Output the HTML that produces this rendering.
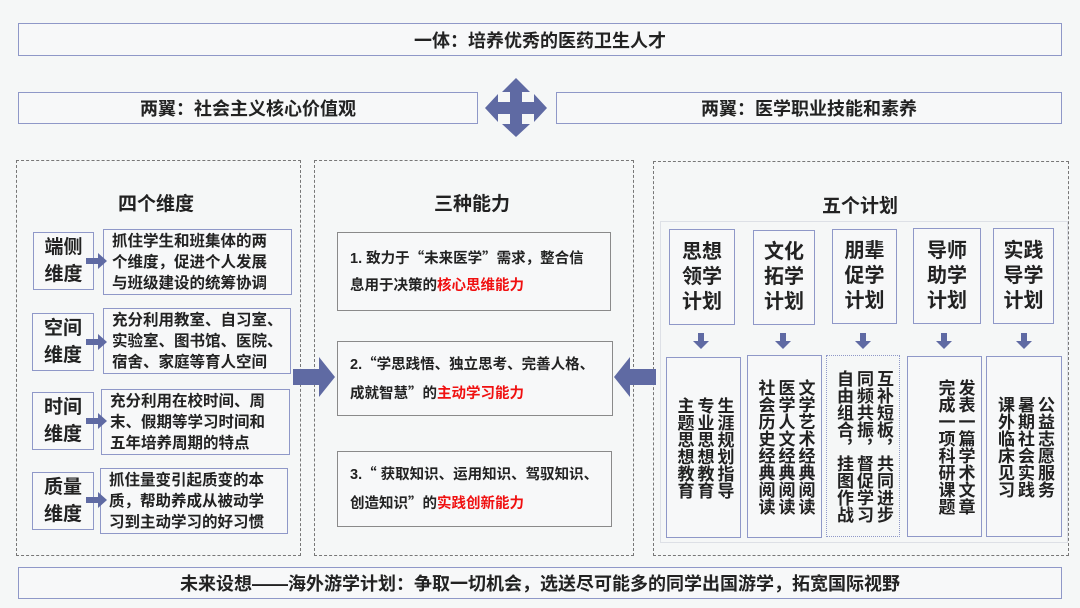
<!DOCTYPE html>
<html><head><meta charset="utf-8"><style>
*{margin:0;padding:0;box-sizing:border-box}
body{width:1080px;height:608px;background:#f5f7f7;position:relative;overflow:hidden;font-family:"Liberation Sans","Noto Sans CJK SC",sans-serif;color:#222;font-weight:bold}
.a{position:absolute}
.b{position:absolute;border:1.5px solid #8f98c8;background:#f7f8f9}
.g{position:absolute;border:1.5px solid #8a8a8a;background:#f7f8f9}
.d{position:absolute;border:1px dashed #777}
.c{display:flex;align-items:center;justify-content:center;text-align:center}
.lbl{font-size:19px;line-height:27px}
.txt{font-size:15.5px;line-height:21px;padding:2px 8px;text-align:left;display:flex;align-items:center;white-space:nowrap}
.mid{font-size:14.5px;line-height:27px;padding:0 12px;display:flex;align-items:center;white-space:nowrap}
.red{color:#f01010}
.q{font-family:"Noto Sans CJK SC",sans-serif}
.top{font-size:20px;line-height:25px}
.vt{writing-mode:vertical-rl;font-size:17px;line-height:20px}
</style></head><body>
<div class="b c" style="left:18px;top:23px;width:1044px;height:33px;font-size:18px">一体：培养优秀的医药卫生人才</div>
<div class="b c" style="left:18px;top:92px;width:460px;height:32px;font-size:18px">两翼：社会主义核心价值观</div>
<div class="b c" style="left:556px;top:92px;width:506px;height:32px;font-size:18px">两翼：医学职业技能和素养</div>
<svg class="a" style="left:484px;top:78px" width="64" height="60" viewBox="0 0 64 60"><path d="M32 0 L46 14 L38 14 L38 24 L50 24 L50 16 L63 30 L50 44 L50 36 L38 36 L38 46 L46 46 L32 59 L18 46 L26 46 L26 36 L14 36 L14 44 L1 30 L14 16 L14 24 L26 24 L26 14 L18 14 Z" fill="#5f6aa3"/></svg>

<div class="d" style="left:16px;top:160px;width:285px;height:396px"></div>
<div class="d" style="left:314px;top:160px;width:320px;height:396px"></div>
<div class="d" style="left:653px;top:161px;width:416px;height:395px"></div>

<div class="a" style="left:118px;top:189px;font-size:19px">四个维度</div>
<div class="b c lbl" style="left:33px;top:232px;width:61px;height:58px">端侧<br>维度</div>
<div class="b txt" style="left:103px;top:229px;width:189px;height:66px">抓住学生和班集体的两<br>个维度，促进个人发展<br>与班级建设的统筹协调</div>
<div class="b c lbl" style="left:32px;top:313px;width:62px;height:58px">空间<br>维度</div>
<div class="b txt" style="left:103px;top:308px;width:188px;height:66px">充分利用教室、自习室、<br>实验室、图书馆、医院、<br>宿舍、家庭等育人空间</div>
<div class="b c lbl" style="left:32px;top:392px;width:62px;height:58px">时间<br>维度</div>
<div class="b txt" style="left:101px;top:389px;width:189px;height:66px">充分利用在校时间、周<br>末、假期等学习时间和<br>五年培养周期的特点</div>
<div class="b c lbl" style="left:32px;top:472px;width:62px;height:58px">质量<br>维度</div>
<div class="b txt" style="left:100px;top:468px;width:188px;height:66px">抓住量变引起质变的本<br>质，帮助养成从被动学<br>习到主动学习的好习惯</div>
<svg class="a" style="left:0;top:0" width="1080" height="608">
<g fill="#5f6aa3">
<path d="M86 258h12v-5l9 8-9 8v-5h-12z"/>
<path d="M86 339h12v-5l9 8-9 8v-5h-12z"/>
<path d="M86 418h12v-5l9 8-9 8v-5h-12z"/>
<path d="M86 497h12v-5l9 8-9 8v-5h-12z"/>
<path d="M293 369h26v-12l16 20-16 20v-12h-26z"/>
<path d="M656 369h-26v-12l-16 20 16 20v-12h26z"/>
<path d="M698 333h6v8h5l-8 8-8-8h5z"/>
<path d="M780 333h6v8h5l-8 8-8-8h5z"/>
<path d="M860 333h6v8h5l-8 8-8-8h5z"/>
<path d="M941 333h6v8h5l-8 8-8-8h5z"/>
<path d="M1021 333h6v8h5l-8 8-8-8h5z"/>
</g></svg>

<div class="a" style="left:434px;top:189px;font-size:19px">三种能力</div>
<div class="g mid" style="left:337px;top:232px;width:274px;height:79px"><div>1. 致力于<span class="q">“</span>未来医学<span class="q">”</span>需求，整合信<br>息用于决策的<span class="red">核心思维能力</span></div></div>
<div class="g mid" style="left:337px;top:341px;width:276px;height:75px"><div>2.<span class="q">“</span>学思践悟、独立思考、完善人格、<br>成就智慧<span class="q">”</span>的<span class="red">主动学习能力</span></div></div>
<div class="g mid" style="left:337px;top:451px;width:275px;height:76px"><div>3.<span class="q">“</span> 获取知识、运用知识、驾驭知识、<br>创造知识<span class="q">”</span>的<span class="red">实践创新能力</span></div></div>

<div class="a" style="left:822px;top:191px;font-size:19px">五个计划</div>
<div class="a" style="left:660px;top:221px;width:408px;height:322px;border:1px solid #dde0e6"></div>
<div class="b c top" style="left:669px;top:229px;width:66px;height:96px">思想<br>领学<br>计划</div>
<div class="b c top" style="left:753px;top:230px;width:62px;height:95px">文化<br>拓学<br>计划</div>
<div class="b c top" style="left:832px;top:229px;width:65px;height:95px">朋辈<br>促学<br>计划</div>
<div class="b c top" style="left:913px;top:228px;width:68px;height:96px">导师<br>助学<br>计划</div>
<div class="b c top" style="left:993px;top:228px;width:61px;height:96px">实践<br>导学<br>计划</div>

<div class="b c" style="left:666px;top:357px;width:75px;height:181px"><div class="vt">生涯规划指导<br>专业思想教育<br>主题思想教育</div></div>
<div class="b c" style="left:747px;top:355px;width:75px;height:183px"><div class="vt">文学艺术经典阅读<br>医学人文经典阅读<br>社会历史经典阅读</div></div>
<div class="a c" style="left:826px;top:355px;width:74px;height:182px;border:1px dotted #8f98c8"><div class="vt">互补短板，共同进步<br>同频共振，督促学习<br>自由组合，挂图作战</div></div>
<div class="b c" style="left:907px;top:356px;width:75px;height:181px"><div class="vt" style="margin-left:20px">发表一篇学术文章<br>完成一项科研课题</div></div>
<div class="b c" style="left:986px;top:356px;width:76px;height:181px"><div class="vt">公益志愿服务<br>暑期社会实践<br>课外临床见习</div></div>

<div class="b c" style="left:18px;top:567px;width:1044px;height:32px;font-size:18px">未来设想——海外游学计划：争取一切机会，选送尽可能多的同学出国游学，拓宽国际视野</div>
</body></html>
